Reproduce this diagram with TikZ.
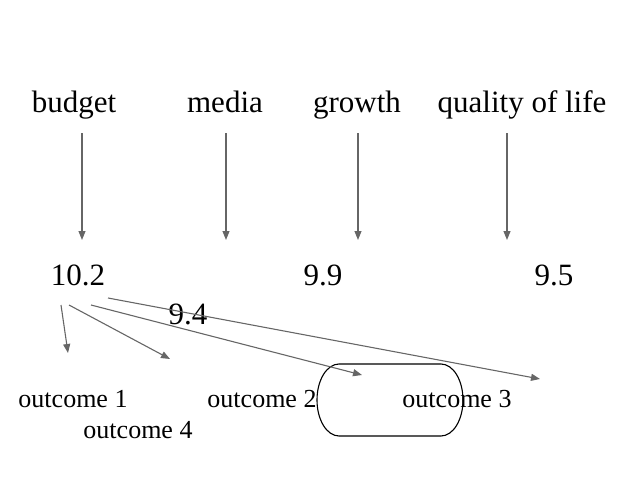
\documentclass[tikz,border=0pt]{standalone}
\usepackage{fontspec}
\setmainfont{Liberation Serif}
\usetikzlibrary{arrows.meta}

\tikzset{
    big/.style={font=\fontsize{31}{37}\selectfont, inner sep=0pt, anchor=base},
    small/.style={font=\fontsize{26}{31}\selectfont, inner sep=0pt, anchor=base},
    arr/.style={draw=gray!110!black, color=black!60, line width=1.1pt, -{Triangle[length=9pt,width=7pt]}}
}

\begin{document}
\begin{tikzpicture}[x=1pt,y=-1pt]
        \useasboundingbox (0,0) rectangle (638,479);

        % Draw the top labels
        \node[big] (budget) at (74,112) {budget};
        \node[big] (media) at (225,112) {media};
        \node[big] (growth) at (357,112) {growth};
        \node[big] (qol) at (522,112) {quality of life};

        % Draw the scores
        \node[big] (s102) at (78,285) {10.2};
        \node[big] (s94) at (188,324) {9.4};
        \node[big] (s99) at (323,285) {9.9};
        \node[big] (s95) at (554,285) {9.5};

        % Draw the outcomes
        \node[small] (out1) at (73,407) {outcome 1};
        \node[small] (out2) at (262,407) {outcome 2};
        \node[small] (out3) at (457,407) {outcome 3};
        \node[small] (out4) at (138,438) {outcome 4};

        % Draw the rounded box
        \draw[line width=1.1pt] (339,364) -- (441,364)
            arc[start angle=-90, end angle=90, x radius=22, y radius=36]
            -- (339,436)
            arc[start angle=90, end angle=270, x radius=22, y radius=36] -- cycle;

        % Arrows below the labels
        \foreach \x/\name in {82/budget, 226/media, 358/growth, 507/qol} {
            \coordinate (\name-top) at (\x,133);
            \coordinate (\name-end) at (\x,240);
            \draw[arr] (\name-top) -- (\name-end);
        }

        % Arrows from the first score
        \coordinate (f1) at (61,305);
        \coordinate (f2) at (69,305);
        \coordinate (f3) at (91,305);
        \coordinate (f4) at (108,298);
        \coordinate (t1) at (68,353);
        \coordinate (t2) at (170,359);
        \coordinate (t3) at (362,375);
        \coordinate (t4) at (540,379);
        \foreach \i in {1,2,3,4} {
            \draw[arr] (f\i) -- (t\i);
        }
    \end{tikzpicture}
\end{document}
